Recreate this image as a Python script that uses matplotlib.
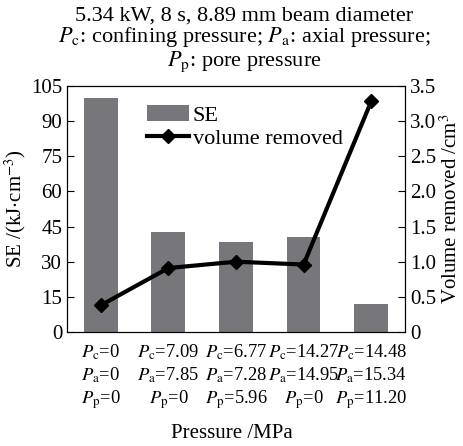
import numpy as np
import matplotlib
matplotlib.use('Agg')
import matplotlib.pyplot as plt

plt.rcParams['font.family'] = 'Liberation Serif'
plt.rcParams['mathtext.fontset'] = 'stix'

# ── data ─────────────────────────────────────────────────────────────────────
p_c = ["0", "7.09", "6.77", "14.27", "14.48"]
p_a = ["0", "7.85", "7.28", "14.95", "15.34"]
p_p = ["0", "0", "5.96", "0", "11.20"]
se_vals = [100, 42.5, 38.5, 40.5, 12]
vol_vals = [0.38, 0.91, 1.0, 0.96, 3.28]

labels = [f"$P_{{\\rm c}}$={c}\n$P_{{\\rm a}}$={a}\n$P_{{\\rm p}}$={p}"
          for c, a, p in zip(p_c, p_a, p_p)]
x = np.arange(len(se_vals))

fig = plt.figure(figsize=(4.63, 4.46), dpi=100)
ax = fig.add_axes([0.1447, 0.2556, 0.730, 0.5516])
ax2 = ax.twinx()

bars = ax.bar(x, se_vals, width=0.5, color="#77777b", label="SE")
line, = ax2.plot(x, vol_vals, "-D", color="black", lw=3, ms=7,
                 label="volume removed")

ax.set_xlim(-0.5, 4.5)
ax.set_ylim(0, 105)
ax.set_yticks(np.arange(0, 106, 15))
ax2.set_ylim(0, 3.5)
ax2.set_yticks(np.arange(0, 3.51, 0.5))
ax2.set_yticklabels(["0"] + [f"{v:.1f}" for v in np.arange(0.5, 3.51, 0.5)])

ax.set_xticks(x)
ax.set_xticklabels(labels, fontsize=13.3, linespacing=1.25)
ax.tick_params(axis="x", length=0, pad=7.5)
ax.tick_params(axis="y", direction="in", labelsize=15, length=5)
ax2.tick_params(axis="y", direction="in", labelsize=15, length=5)

ax.set_ylabel("SE /(kJ$\\cdot$cm$^{-3}$)", fontsize=15, labelpad=2)
ax2.set_ylabel("Volume removed /cm$^{3}$", fontsize=15, labelpad=3)
fig.text(0.5, 1 - 433 / 446, "Pressure /MPa", fontsize=15,
         ha="center", va="center")

fig.text(0.527, 1 - 40 / 446,
         "5.34 kW, 8 s, 8.89 mm beam diameter\n"
         "$P_{\\rm c}$: confining pressure; $P_{\\rm a}$: axial pressure;\n"
         "$P_{\\rm p}$: pore pressure",
         fontsize=16, linespacing=1.0, ha="center", va="center")

ax.legend([bars, line], ["SE", "volume removed"], loc="upper left",
          bbox_to_anchor=(0.205, 0.967), frameon=False, fontsize=16,
          borderpad=0, handlelength=1.85, handletextpad=0.2,
          labelspacing=0.1)

plt.savefig("out.png", dpi=100)
